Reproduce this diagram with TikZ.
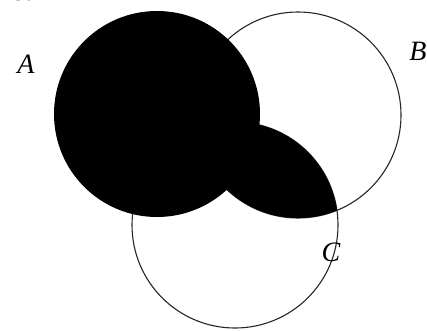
\documentclass[tikz,border=0pt]{standalone}
\usepackage{fontspec}
\setmainfont{Liberation Serif}
\begin{document}
\begin{tikzpicture}[x=1pt,y=-1pt,
  ring/.style={draw=black!85,line width=1.1pt},
  lbl/.style={font=\fontsize{28}{30}\selectfont\itshape,inner sep=0pt}]
\useasboundingbox (0,0) rectangle (427,330);
\clip (0,0) rectangle (427,330);
\coordinate (a) at (157,114);
\coordinate (b) at (298,115);
\coordinate (c) at (235,225);
\draw[ring] (b) circle[radius=103];
\draw[ring] (c) circle[radius=103];
\fill[black] (a) circle[radius=103];
\begin{scope}
  \clip (b) circle[radius=103];
  \fill[black] (c) circle[radius=103];
\end{scope}
\node[lbl] (la) at (26,64) {A};
\node[lbl] (lb) at (418,51) {B};
\node[lbl] (lc) at (331,252) {C};
\node[font=\fontsize{27}{30}\selectfont,inner sep=0pt,anchor=base west] (num) at (12,0.5) {3.};
\end{tikzpicture}
\end{document}
